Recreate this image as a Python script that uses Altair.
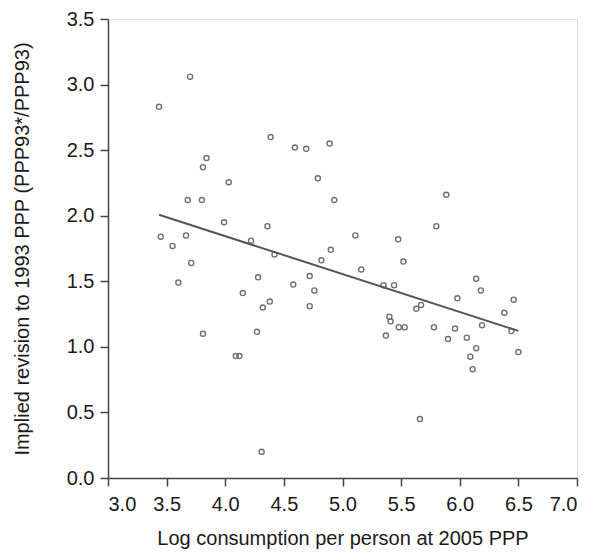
import altair as alt
import pandas as pd

log_consumption = [
    3.435, 3.70, 3.84, 3.81, 4.03, 4.387, 4.594, 4.69, 4.89, 4.79,
    3.68, 3.80, 3.99, 3.45, 3.665, 3.55, 3.71, 3.60, 4.15, 3.81,
    4.09, 4.12, 4.31, 4.93, 4.36, 4.22, 4.42, 5.11, 4.90, 4.82,
    5.475, 5.52, 5.16, 4.28, 4.72, 4.58, 4.76, 5.35, 5.44, 4.38,
    4.32, 4.72, 5.40, 5.41, 5.48, 5.53, 4.27, 5.37, 5.885, 5.80,
    6.14, 6.18, 5.98, 6.46, 5.67, 5.63, 6.38, 5.78, 5.96, 6.19,
    6.44, 5.90, 6.06, 6.14, 6.09, 6.11, 6.50, 5.66,
]
revision = [
    2.83, 3.06, 2.44, 2.37, 2.255, 2.60, 2.52, 2.51, 2.55, 2.285,
    2.12, 2.12, 1.95, 1.84, 1.85, 1.77, 1.64, 1.49, 1.41, 1.10,
    0.93, 0.93, 0.20, 2.12, 1.92, 1.81, 1.705, 1.85, 1.74, 1.66,
    1.82, 1.65, 1.59, 1.53, 1.54, 1.475, 1.43, 1.47, 1.47, 1.345,
    1.30, 1.31, 1.23, 1.195, 1.15, 1.15, 1.115, 1.086, 2.16, 1.92,
    1.52, 1.43, 1.37, 1.36, 1.32, 1.29, 1.26, 1.15, 1.14, 1.165,
    1.12, 1.06, 1.07, 0.99, 0.925, 0.83, 0.96, 0.45,
]
x_ticks = [3.0, 3.5, 4.0, 4.5, 5.0, 5.5, 6.0, 6.5, 7.0]
y_ticks = [0.0, 0.5, 1.0, 1.5, 2.0, 2.5, 3.0, 3.5]

df = pd.DataFrame({"x": log_consumption, "y": revision})

FONT = "Liberation Sans"

common_axis = dict(
    format=".1f", grid=False, tickSize=8,
    domainColor="#444", tickColor="#444", labelColor="#1a1a1a", titleColor="#1a1a1a",
    labelFont=FONT, titleFont=FONT, labelFontSize=20, titleFontSize=20,
    titleFontWeight="normal", domainWidth=1.5, tickWidth=1.5,
)

x_enc = alt.X(
    "x:Q",
    scale=alt.Scale(domain=[3.0, 7.0], nice=False, zero=False),
    axis=alt.Axis(values=x_ticks, title="Log consumption per person at 2005 PPP",
                  labelPadding=8, titlePadding=14, **common_axis),
)
y_enc = alt.Y(
    "y:Q",
    scale=alt.Scale(domain=[0.0, 3.5], nice=False, zero=False),
    axis=alt.Axis(values=y_ticks, title="Implied revision to 1993 PPP (PPP93*/PPP93)",
                  labelPadding=6, titlePadding=34, **common_axis),
)

points = alt.Chart(df).mark_point(
    shape="circle", filled=False, size=26, color="#707070", strokeWidth=1.4, opacity=1
).encode(x=x_enc, y=y_enc)

fit = alt.Chart(df).transform_regression("x", "y").mark_line(
    color="#555555", strokeWidth=2
).encode(x="x:Q", y="y:Q")

chart = (points + fit).properties(
    width=469,
    height=459,
    autosize=alt.AutoSizeParams(type="none"),
    padding={"left": 100, "top": 11, "right": 4, "bottom": 82},
).configure_view(stroke="#444", strokeWidth=1.5).configure(background="white")

chart.save("out.html", embed_options={"renderer": "svg", "actions": False})
